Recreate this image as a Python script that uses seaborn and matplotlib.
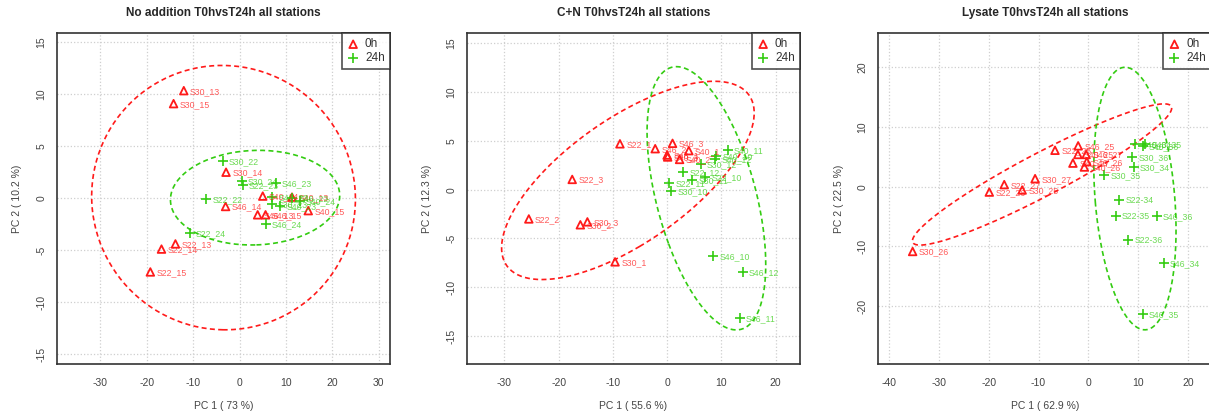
import numpy as np
import pandas as pd
import matplotlib
matplotlib.use("Agg")
import matplotlib.pyplot as plt
import seaborn as sns

# ---------------- data ----------------
# Panel 1: No addition
p1_0h_labels = ["S30_13", "S30_15", "S30_14", "S40_14", "S40_13", "S46_14",
                "S40_15", "S46_13", "S46_15", "S22_13", "S22_14", "S22_15"]
p1_0h_pc1 = [-12.0, -14.2, -2.9, 5.0, 11.3, -3.0, 14.8, 3.9, 5.6, -13.8, -16.8, -19.2]
p1_0h_pc2 = [10.35, 9.1, 2.5, 0.2, 0.1, -0.8, -1.2, -1.6, -1.6, -4.4, -4.9, -7.1]
p1_24h_labels = ["S30_22", "S30_24", "S22_23", "S46_23", "S22_22", "S40_22",
                 "S30_23", "S40_23", "S46_22", "S40_24", "S46_24", "S22_24"]
p1_24h_pc1 = [-3.6, 0.5, 0.7, 7.8, -7.2, 7.1, 6.9, 8.8, 11.3, 13.0, 5.6, -10.7]
p1_24h_pc2 = [3.6, 1.65, 1.3, 1.5, -0.05, 0.1, -0.6, -0.75, 0.0, -0.3, -2.5, -3.35]

# Panel 2: C+N
p2_0h_labels = ["S22_1", "S46_2", "S46_3", "S40_1", "S46_1", "S40_3",
                "S40_2", "S22_3", "S22_2", "S30_3", "S30_2", "S30_1"]
p2_0h_pc1 = [-8.7, -2.2, 1.0, 4.0, 0.0, 0.1, 2.3, -17.5, -25.5, -14.7, -16.0, -9.6]
p2_0h_pc2 = [4.7, 4.2, 4.75, 4.0, 3.55, 3.35, 3.1, 1.05, -3.0, -3.3, -3.6, -7.4]
p2_24h_labels = ["S40_11", "S40_10", "S40_12", "S30_12", "S22_12", "S22_10",
                 "S30_11", "S22_11", "S30_10", "S46_10", "S46_12", "S46_11"]
p2_24h_pc1 = [11.2, 9.0, 8.9, 6.2, 3.0, 7.0, 4.6, 0.4, 0.8, 8.5, 13.9, 13.4]
p2_24h_pc2 = [4.05, 3.45, 3.1, 2.6, 1.8, 1.3, 1.0, 0.7, -0.1, -6.85, -8.45, -13.2]

# Panel 3: Lysate
p3_0h_labels = ["S46_25", "S22_25", "S40_25", "S46_27", "S40_27", "S46_26",
                "S40_26", "S30_27", "S22_27", "S22_26", "S30_25", "S30_26"]
p3_0h_pc1 = [-2.05, -6.7, -2.1, -0.45, -3.1, -0.3, -0.8, -10.7, -16.9, -19.9, -13.3, -35.3]
p3_0h_pc2 = [6.85, 6.1, 5.4, 5.4, 3.95, 4.2, 3.3, 1.35, 0.35, -0.9, -0.55, -10.85]
p3_24h_labels = ["S40_34", "S40_36", "S40_35", "S30_36", "S30_34", "S30_35",
                 "S22-34", "S22-35", "S46_36", "S22-36", "S46_34", "S46_35"]
p3_24h_pc1 = [9.4, 10.9, 11.4, 8.8, 9.1, 3.2, 6.25, 5.5, 13.7, 8.05, 15.1, 10.9]
p3_24h_pc2 = [7.1, 6.8, 7.1, 4.9, 3.35, 2.0, -2.2, -4.95, -4.95, -8.95, -12.7, -21.3]

titles = ["No addition T0hvsT24h all stations", "C+N T0hvsT24h all stations",
          "Lysate T0hvsT24h all stations"]
xlabels = ["PC 1 ( 73 %)", "PC 1 ( 55.6 %)", "PC 1 ( 62.9 %)"]
ylabels = ["PC 2 ( 10.2 %)", "PC 2 ( 12.3 %)", "PC 2 ( 22.5 %)"]
group_names = ["0h", "24h"]

# ---------------- style ----------------
sns.set_style("white")
plt.rcParams['font.family'] = ['Liberation Sans', 'DejaVu Sans']
plt.rcParams['axes.unicode_minus'] = False

RED = '#FF1A1A'
GREEN = '#33CC11'

panels = [
    (p1_0h_labels, p1_0h_pc1, p1_0h_pc2, p1_24h_labels, p1_24h_pc1, p1_24h_pc2),
    (p2_0h_labels, p2_0h_pc1, p2_0h_pc2, p2_24h_labels, p2_24h_pc1, p2_24h_pc2),
    (p3_0h_labels, p3_0h_pc1, p3_0h_pc2, p3_24h_labels, p3_24h_pc1, p3_24h_pc2),
]
lefts = [57, 467, 878.3]
xlims = [(-39.3, 32.4), (-36.9, 24.5), (-42.2, 24.7)]
ylims = [(-15.96, 15.9), (-17.87, 16.06), (-29.7, 25.75)]
xticks = [np.arange(-30, 31, 10), np.arange(-30, 21, 10), np.arange(-40, 21, 10)]
yticks = [np.arange(-15, 16, 5), np.arange(-15, 16, 5), np.arange(-20, 21, 10)]


def conf_ellipse(x, y, level=0.95, n=240):
    pts = np.column_stack([x, y])
    mu = pts.mean(axis=0)
    cov = np.cov(pts, rowvar=False)
    t = np.sqrt(-2 * np.log(1 - level))
    vals, vecs = np.linalg.eigh(cov)
    theta = np.linspace(0, 2 * np.pi, n)
    circ = np.column_stack([np.cos(theta), np.sin(theta)])
    return mu + t * circ @ (vecs * np.sqrt(vals)).T


fig = plt.figure(figsize=(12.09, 4.19), dpi=100)
W, H = 1209, 419

for i, (l0, x0, y0, l1, x1, y1) in enumerate(panels):
    ax = fig.add_axes([lefts[i] / W, 55 / H, 333 / W, 331 / H])
    df = pd.concat([
        pd.DataFrame({"PC1": x0, "PC2": y0, "name": l0, "time": "0h"}),
        pd.DataFrame({"PC1": x1, "PC2": y1, "name": l1, "time": "24h"}),
    ], ignore_index=True)

    ax.set_axisbelow(True)
    ax.grid(True, linestyle=':', color='#cfcfcf', linewidth=0.9)

    # 95% confidence ellipses computed from each group's scores
    for grp, col in zip(group_names, [RED, GREEN]):
        sub = df[df.time == grp]
        ell = conf_ellipse(sub.PC1.values, sub.PC2.values)
        ax.plot(ell[:, 0], ell[:, 1], color=col, linestyle=(0, (3, 2)), linewidth=1.2)

    d0 = df[df.time == "0h"]
    d1 = df[df.time == "24h"]
    sns.scatterplot(data=d0, x="PC1", y="PC2", ax=ax, marker="^", s=30,
                    facecolor="none", edgecolor=RED, linewidth=1.3, label="0h", zorder=3)
    sns.scatterplot(data=d1, x="PC1", y="PC2", ax=ax, marker="+", s=48,
                    color=GREEN, linewidth=1.2, label="24h", zorder=3)

    for sub, col in [(d0, RED), (d1, GREEN)]:
        for _, r in sub.iterrows():
            ax.annotate(r["name"], (r.PC1, r.PC2), xytext=(4.5, -0.5),
                        textcoords='offset points', fontsize=6.3, color=col,
                        alpha=0.72, va='center', ha='left', zorder=4)

    ax.set_xlim(*xlims[i])
    ax.set_ylim(*ylims[i])
    ax.set_xticks(xticks[i])
    ax.set_yticks(yticks[i])
    ax.tick_params(axis='both', direction='out', length=4.3, width=0.8,
                   color='#555555', labelsize=7.5, labelcolor='#444444')
    ax.tick_params(axis='x', pad=6)
    ax.tick_params(axis='y', pad=3.5, labelrotation=90)
    for lbl in ax.get_yticklabels():
        lbl.set_verticalalignment('center')
    for sp in ax.spines.values():
        sp.set_visible(True)
        sp.set_color('#333333')
        sp.set_linewidth(1.2)

    ax.set_xlabel(xlabels[i], fontsize=7.5, color='#444444', labelpad=9)
    ax.set_ylabel(ylabels[i], fontsize=7.5, color='#444444', labelpad=10)
    ax.set_title(titles[i], fontsize=8.5, fontweight='bold', pad=12)

    leg = ax.legend(loc='upper right', borderaxespad=0, frameon=True, fancybox=False,
                    fontsize=8.5, handlelength=1.0, handletextpad=0.5, borderpad=0.45,
                    labelspacing=0.15, markerscale=1.0)
    leg.get_frame().set_edgecolor('#222222')
    leg.get_frame().set_linewidth(1.2)
    for t in leg.get_texts():
        t.set_color('#333333')

fig.savefig("out.png", dpi=100)
